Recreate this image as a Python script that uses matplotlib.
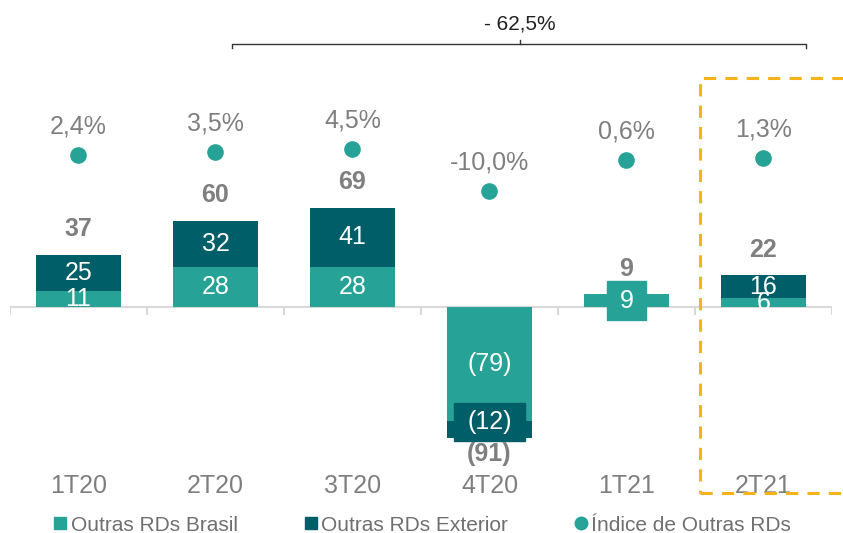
import matplotlib
matplotlib.use("Agg")
import matplotlib.pyplot as plt
from matplotlib.lines import Line2D
from matplotlib.patches import Rectangle

plt.rcParams["font.family"] = ["Liberation Sans", "DejaVu Sans"]

quarters = ["1T20", "2T20", "3T20", "4T20", "1T21", "2T21"]
brasil = [11, 28, 28, -79, 9, 6]
exterior = [25, 32, 41, -12, 0, 16]
totals = [37, 60, 69, -91, 9, 22]
indice = [2.4, 3.5, 4.5, -10.0, 0.6, 1.3]
indice_labels = ["2,4%", "3,5%", "4,5%", "-10,0%", "0,6%", "1,3%"]
variacao = "- 62,5%"

C_BR = "#26A396"
C_EX = "#005E68"
GRAY = "#7f7f7f"
FS = 18

fig = plt.figure(figsize=(8.43, 5.33), dpi=100)
ax = fig.add_axes([10 / 843, 33 / 533, 822 / 843, 440 / 533])
ax2 = ax.twinx()

x = list(range(len(quarters)))
w = 0.62

ax.bar(x, brasil, width=w, color=C_BR, zorder=2)
ax.bar(x, exterior, width=w, bottom=brasil, color=C_EX, zorder=2)

ax.set_xlim(-0.5, 5.5)
ax.set_ylim(-134, 171.5)
ax2.set_ylim(-116.6, 35.16)
for a in (ax, ax2):
    a.set_axis_off()

# zero line with separators
ax.axhline(0, color="#d9d9d9", lw=1.5, zorder=1)
ax.vlines([i - 0.5 for i in range(len(quarters) + 1)], -5.5, 0, color="#d9d9d9", lw=1.5, zorder=1)


def label_box(xc, yc, text, color, bw, bh):
    # label sitting on its own filled box (wider/taller than the thin segment)
    ax.add_patch(Rectangle((xc - bw / 2, yc - bh / 2), bw, bh, color=color, zorder=4))
    ax.text(xc, yc, text, ha="center", va="center", color="white", fontsize=FS, zorder=5)


for i in x:
    b, e, t = brasil[i], exterior[i], totals[i]
    fmt = (lambda v: f"({abs(v)})") if t < 0 else (lambda v: f"{v}")
    # segment labels
    if i == 4:
        label_box(i, b / 2, fmt(b), C_BR, 0.285, 27)
    else:
        ax.text(i, b / 2, fmt(b), ha="center", va="center", color="white", fontsize=FS, zorder=3)
    if e != 0:
        if i == 3:
            label_box(i, b + e / 2 + 5, fmt(e), C_EX, 0.52, 26.4)
        else:
            ax.text(i, b + e / 2, fmt(e), ha="center", va="center", color="white", fontsize=FS, zorder=3)
    # totals
    if t >= 0:
        ax.text(i, t + 17.5, f"{t}", ha="center", va="center", color=GRAY, fontsize=FS,
                fontweight="bold", zorder=3)
    else:
        ax.text(i, t - 11, f"({abs(t)})", ha="center", va="center", color=GRAY, fontsize=FS,
                fontweight="bold", zorder=6)
    ax.text(i, -124, quarters[i], ha="center", va="center", color=GRAY, fontsize=FS)

ax2.scatter(x, indice, s=120, color=C_BR, zorder=3)
for i in x:
    ax2.text(i, indice[i] + 9.8, indice_labels[i], ha="center", va="center", color=GRAY, fontsize=FS)

# bracket
bl, br, bc, by = 1.12, 5.31, 3.22, 182.6
ax.plot([bl, bl, br, br], [by - 3, by, by, by - 3], color="#333333", lw=1, clip_on=False)
ax.plot([bc, bc], [by, by + 3], color="#333333", lw=1, clip_on=False)
ax.text(bc, by + 14, variacao, ha="center", va="center", color="#222222", fontsize=15,
        clip_on=False)

# highlight box for last quarter
ax.add_patch(Rectangle((4.536, -129), 1.6, 288, fill=False, ec="#F5B31A", lw=2.2,
                       ls=(0, (4, 3)), clip_on=False, zorder=7))

handles = [
    Line2D([], [], marker="s", ls="none", color=C_BR, markersize=9),
    Line2D([], [], marker="s", ls="none", color=C_EX, markersize=9),
    Line2D([], [], marker="o", ls="none", color=C_BR, markersize=9),
]
fig.legend(handles, ["Outras RDs Brasil", "Outras RDs Exterior", "Índice de Outras RDs"],
           loc="lower center", bbox_to_anchor=(0.5, -0.038), ncol=3, frameon=False,
           prop={"size": 15}, labelcolor="#6f6f6f", handletextpad=0.1,
           handlelength=0.8, columnspacing=3.1)

fig.savefig("out.png", dpi=100)
